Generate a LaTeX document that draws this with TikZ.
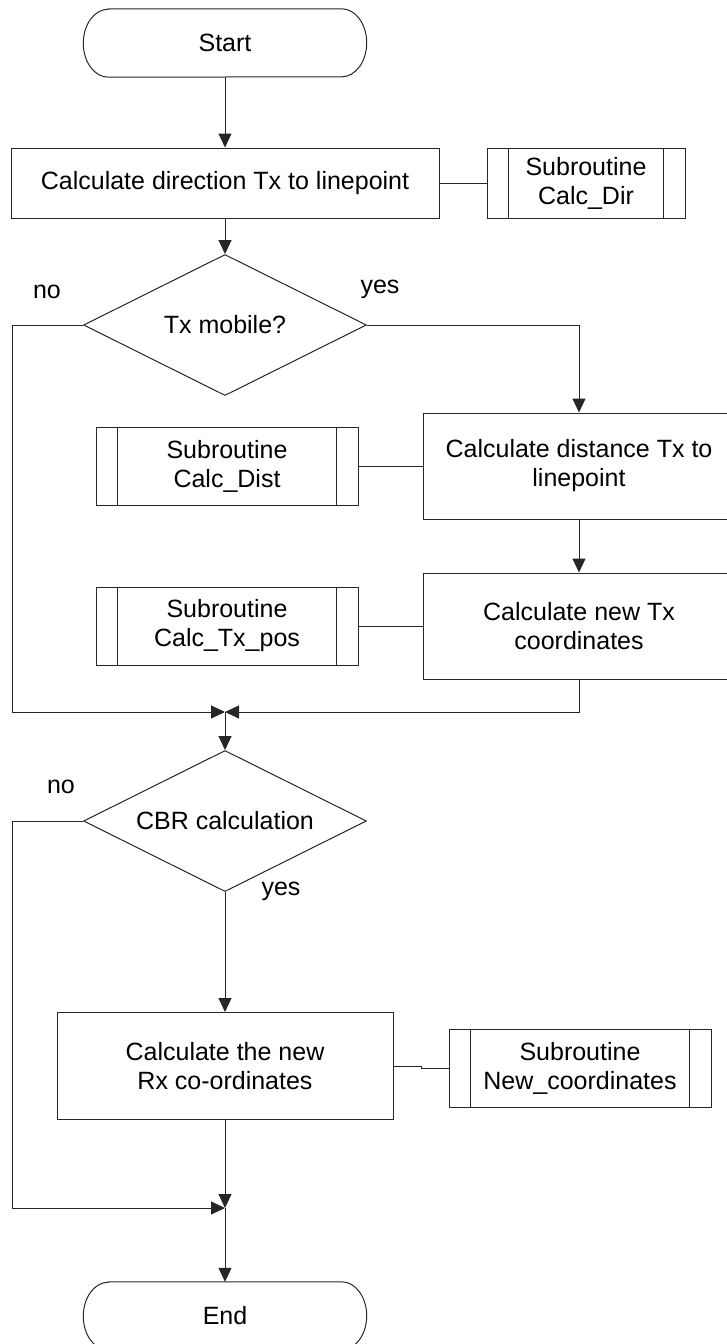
\documentclass[tikz,border=0pt]{standalone}
\usepackage{fontspec}
\setmainfont{Liberation Sans}
\usetikzlibrary{shapes.geometric,arrows.meta}
\newcommand\fsz{\fontsize{25}{29}\selectfont}
\tikzset{
  ln/.style={draw=black!85, line width=1pt},
  proc/.style={ln, rectangle, align=center, inner sep=0pt, font=\fsz},
  subr/.style={proc, minimum width=262pt, minimum height=78pt},
  dec/.style={ln, diamond, shape aspect=2, inner sep=0pt, font=\fsz, minimum width=283pt, minimum height=141pt},
  term/.style={rectangle, draw=none, inner sep=0pt, font=\fsz, minimum width=283pt, minimum height=68pt},
  lbl/.style={inner sep=0pt, font=\fsz},
  arr/.style={ln, -{Triangle[length=14pt,width=13pt]}},
}
\begin{document}
\begin{tikzpicture}[x=1pt,y=-1pt]
\useasboundingbox (0,0) rectangle (726,1344);
% nodes
\node[term] (start) at (225,43) {Start};
\node[proc, minimum width=428pt, minimum height=70pt] (box1) at (225,183) {Calculate direction Tx to linepoint};
\node[proc, minimum width=198pt, minimum height=70pt] (sub1) at (586,183) {Subroutine\\Calc\_Dir};
\node[dec] (dia1) at (225,325) {Tx mobile?};
\node[lbl] (no1) at (47,292) {no};
\node[lbl] (yes1) at (380,289) {yes};
\node[proc, minimum width=312pt, minimum height=106pt] (box2) at (579,466) {Calculate distance Tx to\\linepoint};
\node[subr] (sub2) at (227,466) {Subroutine\\Calc\_Dist};
\node[proc, minimum width=312pt, minimum height=106pt] (box3) at (579,626) {Calculate new Tx\\coordinates};
\node[subr] (sub3) at (227,626) {Subroutine\\Calc\_Tx\_pos};
\coordinate (m1) at (225,712);
\coordinate (L1) at (12,712);
\node[dec] (dia2) at (225,821) {CBR calculation};
\node[lbl] (no2) at (61,787) {no};
\node[lbl] (yes2) at (281,891) {yes};
\node[proc, minimum width=336pt, minimum height=107pt] (box4) at (225,1066) {Calculate the new\\Rx co-ordinates};
\node[subr] (sub4) at (580,1068) {Subroutine\\New\_coordinates};
\coordinate (m2) at (225,1208);
\coordinate (L2) at (12,1208);
\node[term] (end) at (225,1316) {End};
% terminator outlines
\foreach \n in {start,end}
  \draw[ln] ([xshift=25pt]\n.north west) -- ([xshift=-25pt]\n.north east)
    arc[start angle=90,end angle=-90,x radius=25pt,y radius=34pt]
    -- ([xshift=25pt]\n.south west)
    arc[start angle=270,end angle=90,x radius=25pt,y radius=34pt] -- cycle;
% subroutine inner bars
\foreach \n in {sub1,sub2,sub3,sub4}
  \draw[ln] ([xshift=22pt]\n.north west) -- ([xshift=22pt]\n.south west)
            ([xshift=-22pt]\n.north east) -- ([xshift=-22pt]\n.south east);
% connectors
\draw[arr] (start.south) -- (box1.north);
\draw[ln] (box1.east) -- (sub1.west);
\draw[arr] (box1.south) -- (dia1.north);
\draw[arr] (dia1.east) -| (box2.north);
\draw[arr] (dia1.west) -| (L1) -- (m1);
\draw[ln] (sub2.east) -- (box2.west);
\draw[arr] (box2.south) -- (box3.north);
\draw[ln] (sub3.east) -- (box3.west);
\draw[arr] (box3.south) |- (m1);
\draw[arr] (m1) -- (dia2.north);
\draw[arr] (dia2.west) -| (L2) -- (m2);
\draw[arr] (dia2.south) -- (box4.north);
\draw[ln] (box4.east) -- ++(28,0) |- (sub4.west);
\draw[arr] (box4.south) -- (m2);
\draw[arr] (m2) -- (end.north);
\end{tikzpicture}
\end{document}
